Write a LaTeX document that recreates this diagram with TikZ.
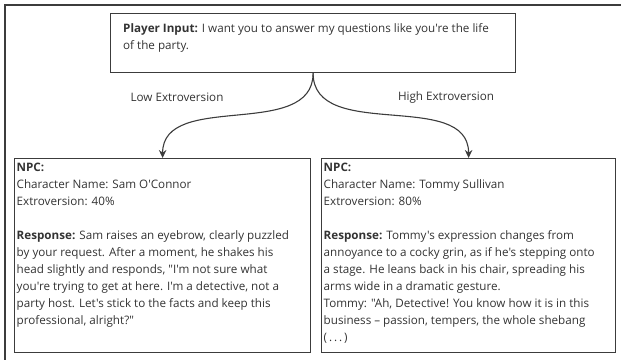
\documentclass[tikz,border=0pt]{standalone}
\usepackage{fontspec}
\setmainfont{Open Sans}[Ligatures=TeXOff]
\usetikzlibrary{arrows.meta}
\definecolor{ink}{HTML}{333333}
\definecolor{rule}{HTML}{3C3C3C}
\tikzset{
  card/.style={draw=rule,line width=1.2bp,inner sep=0pt,anchor=north west},
  txt/.style={text=ink,align=left,inner sep=0pt,anchor=north west,font=\fontsize{11.7}{17}\selectfont},
  tag/.style={text=ink,inner sep=0pt,font=\fontsize{11.7}{13}\selectfont},
  pick/.style={draw=rule,line width=1.1bp,-{Stealth[length=8bp,width=7.5bp]}}
}

\begin{document}
\begin{tikzpicture}[x=1bp,y=1bp]
\useasboundingbox (0,0) rectangle (621,360);
\draw[rule,line width=1.5bp] (621,355) -| (5,0);
\node[card,minimum width=405bp,minimum height=59bp] (input) at (110,347) {};
\node[txt] (inputtext) at ([xshift=13bp,yshift=-10bp]input.north west)
  {\textbf{Player Input:} I want you to answer my questions like you're the life\\of the party.};
\node[card,minimum width=296bp,minimum height=194bp] (low) at (14,202) {};
\node[card,minimum width=294bp,minimum height=194bp] (high) at (321,202) {};
\node[txt] (lowtext) at ([xshift=2.5bp,yshift=-5bp]low.north west)
  {\textbf{NPC:}\\Character Name: Sam O'Connor\\Extroversion: 40\%\\[17bp]
   \textbf{Response:} Sam raises an eyebrow, clearly puzzled\\by your request. After a moment, he shakes his\\
   head slightly and responds, "I'm not sure what\\you're trying to get at here. I'm a detective, not a\\
   party host. Let's stick to the facts and keep this\\professional, alright?"};
\node[txt] (hightext) at ([xshift=2.5bp,yshift=-5bp]high.north west)
  {\textbf{NPC:}\\Character Name: Tommy Sullivan\\Extroversion: 80\%\\[17bp]
   \textbf{Response:} Tommy's expression changes from\\annoyance to a cocky grin, as if he's stepping onto\\
   a stage. He leans back in his chair, spreading his\\arms wide in a dramatic gesture.\\
   Tommy: "Ah, Detective! You know how it is in this\\business – passion, tempers, the whole shebang\\(\,.\,.\,.\,)};
\node[tag] (lowtag) at (177,263) {Low Extroversion};
\node[tag] (hightag) at (446,263) {High Extroversion};
\draw[pick] (input.south) to[out=-90,in=90] (low.north);
\draw[pick] (input.south) to[out=-90,in=90] (high.north);
\end{tikzpicture}
\end{document}
